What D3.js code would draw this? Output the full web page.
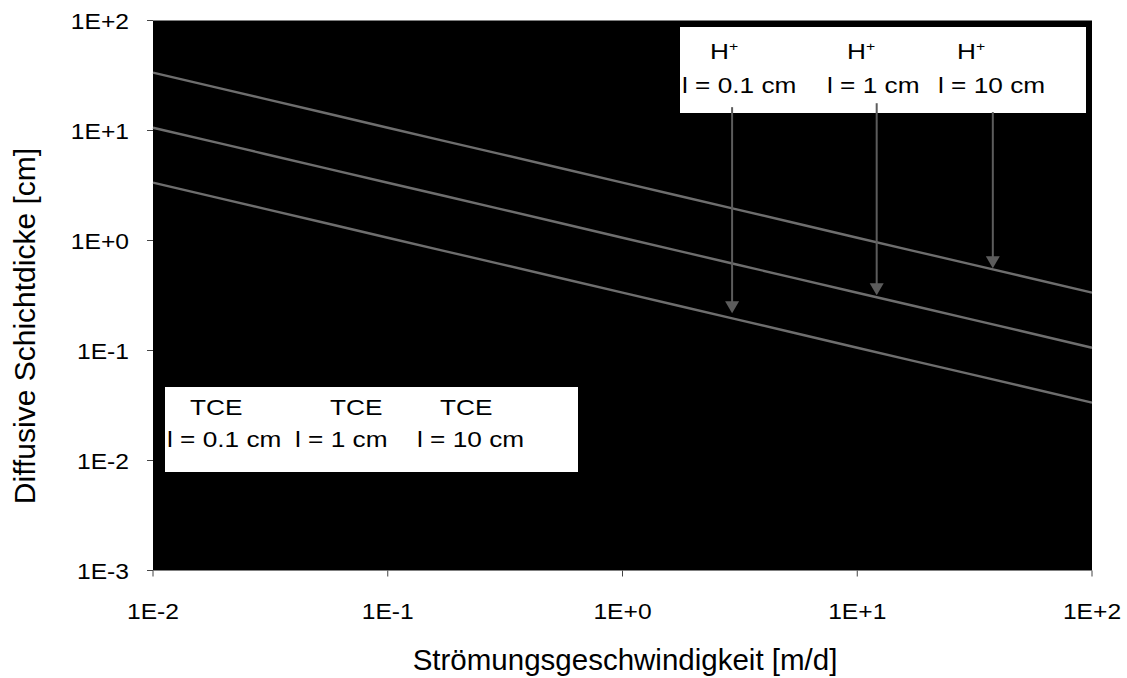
<!DOCTYPE html>
<html><head><meta charset="utf-8">
<script src="https://cdn.jsdelivr.net/npm/d3@7"></script>
<style>body{margin:0;background:#fff}svg{display:block}text{font-family:"Liberation Sans",Arial,sans-serif;fill:#000}</style>
</head><body>
<script>
// ---- data ----
const velocity = [0.01, 0.03, 0.1, 0.3, 1, 3, 10, 30, 100];
const seriesTop = [33.6, 19.4, 10.6, 6.13, 3.36, 1.94, 1.06, 0.613, 0.336];
const seriesMid = [10.6, 6.12, 3.35, 1.94, 1.06, 0.612, 0.335, 0.194, 0.106];
const seriesBot = [3.36, 1.94, 1.06, 0.613, 0.336, 0.194, 0.106, 0.0613, 0.0336];
const xTickValues = [0.01, 0.1, 1, 10, 100];
const xTickLabels = ["1E-2", "1E-1", "1E+0", "1E+1", "1E+2"];
const yTickValues = [0.001, 0.01, 0.1, 1, 10, 100];
const yTickLabels = ["1E-3", "1E-2", "1E-1", "1E+0", "1E+1", "1E+2"];
const arrowX = [2.93, 12.1, 37.8];
const arrowFrom = [16.3, 17.7, 14.7];
const arrowTo = [0.218, 0.318, 0.56];
const hLabels = ["l = 0.1 cm", "l = 1 cm", "l = 10 cm"];
const tceLabels = ["l = 0.1 cm", "l = 1 cm", "l = 10 cm"];

const W = 1127, H = 678;
const svg = d3.select("body").append("svg").attr("width", W).attr("height", H);
const x = d3.scaleLog().domain([0.01, 100]).range([153, 1092]);
const y = d3.scaleLog().domain([0.001, 100]).range([570.5, 20.5]);

// plot area
svg.append("rect").attr("x", x(0.01)).attr("y", y(100))
  .attr("width", x(100) - x(0.01)).attr("height", y(0.001) - y(100)).attr("fill", "#000");

// ticks
const tickCol = "#444";
svg.selectAll(".yt").data(yTickValues).enter().append("line")
  .attr("x1", x(0.01) - 6).attr("x2", x(0.01)).attr("y1", d => y(d)).attr("y2", d => y(d))
  .attr("stroke", tickCol).attr("stroke-width", 1);
svg.selectAll(".xt").data(xTickValues).enter().append("line")
  .attr("x1", d => x(d)).attr("x2", d => x(d)).attr("y1", y(0.001)).attr("y2", y(0.001) + 6)
  .attr("stroke", tickCol).attr("stroke-width", 1);

function stext(txt, px, py, size, sx, anchor) {
  const g = svg.append("g").attr("transform", `translate(${px},${py}) scale(${sx},1)`);
  return g.append("text").attr("font-size", size).attr("text-anchor", anchor || "start").text(txt);
}
yTickValues.forEach((v, i) => stext(yTickLabels[i], 129, y(v) + 8, 22, 1.12, "end"));
xTickValues.forEach((v, i) => stext(xTickLabels[i], x(v), 619, 22, 1.12, "middle"));

// titles
stext("Strömungsgeschwindigkeit [m/d]", 625, 670, 29.5, 1, "middle");
svg.append("text").attr("transform", `translate(35,326) rotate(-90)`)
  .attr("font-size", 30).attr("text-anchor", "middle").text("Diffusive Schichtdicke [cm]");

// lines
const line = d3.line().x((d, i) => x(velocity[i])).y(d => y(d)).curve(d3.curveCatmullRom);
[seriesTop, seriesMid, seriesBot].forEach(s => {
  svg.append("path").datum(s).attr("d", line).attr("fill", "none")
    .attr("stroke", "#6e6e6e").attr("stroke-width", 2.4);
});

// annotation boxes
svg.append("rect").attr("x", 680).attr("y", 27).attr("width", 406).attr("height", 86).attr("fill", "#fff");
svg.append("rect").attr("x", 165).attr("y", 387).attr("width", 413).attr("height", 85).attr("fill", "#fff");

const hX = [710, 847, 957];
const hLX = [682, 827, 938];
hX.forEach(px => {
  const g = svg.append("g").attr("transform", `translate(${px},59) scale(1.22,1)`);
  const t = g.append("text").attr("font-size", 21.5);
  t.append("tspan").text("H");
  t.append("tspan").attr("font-size", 13).attr("dy", -8).text("+");
});
hLabels.forEach((s, i) => stext(s, hLX[i], 93, 21.5, 1.22));

const tX = [190, 330, 440];
const tLX = [167, 295, 417];
tX.forEach(px => stext("TCE", px, 415, 21.5, 1.22));
tceLabels.forEach((s, i) => stext(s, tLX[i], 447, 21.5, 1.22));

// arrows
arrowX.forEach((v, i) => {
  const ax = x(v), y0 = y(arrowFrom[i]), y1 = y(arrowTo[i]);
  svg.append("line").attr("x1", ax).attr("x2", ax).attr("y1", y0).attr("y2", y1 - 10)
    .attr("stroke", "#5c5c5c").attr("stroke-width", 2);
  svg.append("path").attr("d", `M${ax - 7},${y1 - 12} L${ax + 7},${y1 - 12} L${ax},${y1} Z`)
    .attr("fill", "#5c5c5c");
});
</script>
</body></html>
